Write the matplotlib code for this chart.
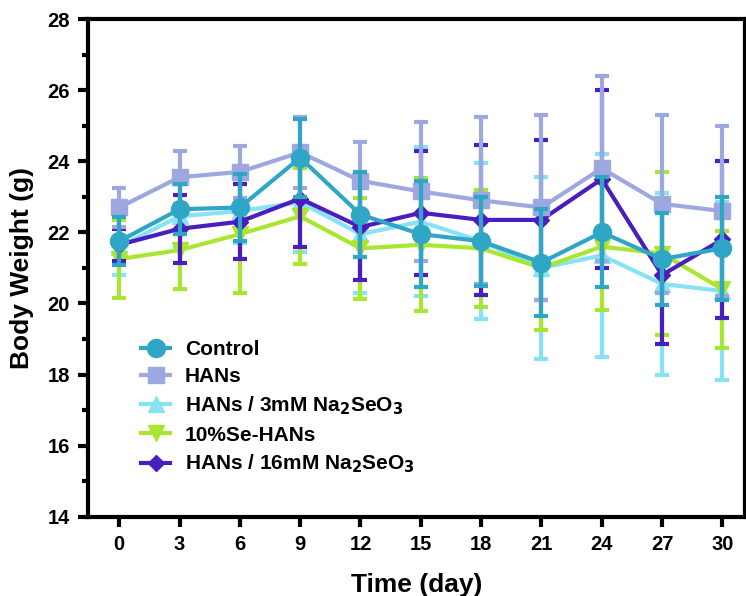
import numpy as np
import matplotlib
matplotlib.use("Agg")
from matplotlib import pyplot as plt
from matplotlib.lines import Line2D
from matplotlib.ticker import MultipleLocator

plt.rcParams['font.family'] = ['Liberation Sans', 'DejaVu Sans']
plt.rcParams['font.weight'] = 'bold'

days = [0, 3, 6, 9, 12, 15, 18, 21, 24, 27, 30]

control = [21.75, 22.65, 22.7, 24.1, 22.5, 21.95, 21.75, 21.15, 22.0, 21.25, 21.55]
control_err = [0.67, 0.7, 0.95, 1.1, 1.2, 1.5, 1.25, 1.5, 1.55, 1.3, 1.45]

hans = [22.7, 23.55, 23.7, 24.25, 23.45, 23.15, 22.9, 22.7, 23.8, 22.8, 22.6]
hans_err = [0.56, 0.75, 0.73, 1.0, 1.1, 1.95, 2.35, 2.6, 2.6, 2.5, 2.4]

mm3 = [21.6, 22.45, 22.6, 22.85, 21.95, 22.3, 21.75, 21.0, 21.35, 20.55, 20.35]
mm3_err = [0.8, 0.9, 0.9, 1.4, 1.65, 2.1, 2.2, 2.55, 2.85, 2.57, 2.5]

se10 = [21.25, 21.5, 21.95, 22.45, 21.55, 21.65, 21.55, 21.0, 21.6, 21.4, 20.4]
se10_err = [1.1, 1.1, 1.65, 1.35, 1.42, 1.87, 1.65, 1.75, 1.78, 2.3, 1.65]

mm16 = [21.65, 22.1, 22.3, 22.95, 22.15, 22.55, 22.35, 22.35, 23.5, 20.8, 21.8]
mm16_err = [0.45, 0.95, 1.05, 1.35, 1.5, 1.75, 2.1, 2.25, 2.5, 1.95, 2.2]

series = [
    # label, values, errors, colour, marker, size, zorder
    ("HANs / 3mM Na$_2$SeO$_3$", mm3, mm3_err, "#86e3f5", "^", 12, 2),
    ("10%Se-HANs", se10, se10_err, "#a9e632", "v", 12, 3),
    ("HANs / 16mM Na$_2$SeO$_3$", mm16, mm16_err, "#4a1dbf", "D", 8, 4),
    ("HANs", hans, hans_err, "#9ea8e0", "s", 12, 5),
    ("Control", control, control_err, "#30a6c6", "o", 13, 6),
]

fig = plt.figure(figsize=(7.46, 5.96), dpi=100)
ax = fig.add_axes([0.118, 0.133, 0.88, 0.835])

handles = {}
for label, vals, errs, color, marker, ms, z in series:
    ax.errorbar(days, vals, yerr=errs, color=color, marker=marker,
                markersize=ms, linewidth=3, elinewidth=3, capsize=5,
                capthick=3, zorder=z)
    # legend shows marker + line only, no error bar
    handles[label] = Line2D([], [], color=color, marker=marker,
                            markersize=ms, linewidth=3)

order = ["Control", "HANs", "HANs / 3mM Na$_2$SeO$_3$", "10%Se-HANs",
         "HANs / 16mM Na$_2$SeO$_3$"]
ax.legend([handles[k] for k in order], order, loc="upper left",
          bbox_to_anchor=(0.068, 0.372), frameon=False, fontsize=15,
          handlelength=1.4, handletextpad=0.7, labelspacing=0.4,
          borderaxespad=0)

ax.set_xlim(-1.55, 31.1)
ax.set_ylim(14, 28)
ax.set_xticks(days)
ax.yaxis.set_major_locator(MultipleLocator(2))
ax.yaxis.set_minor_locator(MultipleLocator(1))

for s in ax.spines.values():
    s.set_linewidth(3)
ax.tick_params(axis="both", which="major", direction="out", length=7,
               width=3, labelsize=14.5, pad=6)
ax.tick_params(axis="y", which="minor", direction="out", length=4, width=3)

ax.set_xlabel("Time (day)", fontsize=19, fontweight="bold", labelpad=14)
ax.set_ylabel("Body Weight (g)", fontsize=19, fontweight="bold", labelpad=10)

fig.savefig("out.png", dpi=100)
